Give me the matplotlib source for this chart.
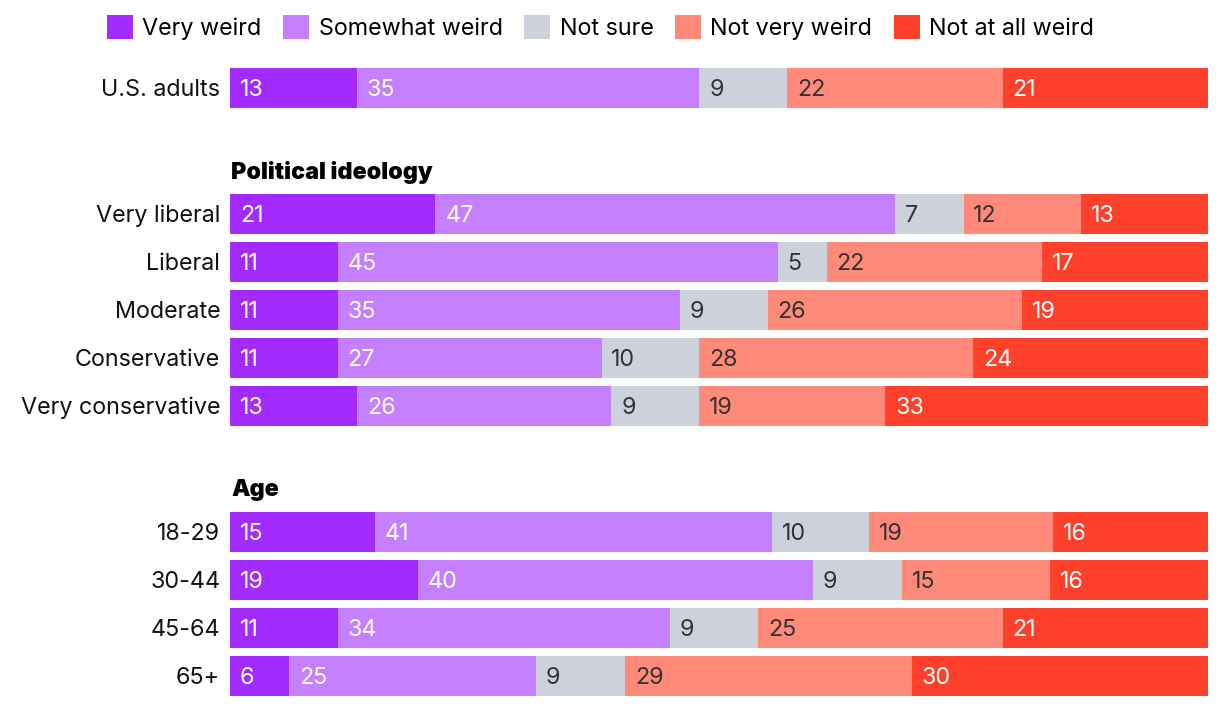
import matplotlib
matplotlib.use("Agg")
import matplotlib.pyplot as plt
from matplotlib.patches import Patch
import numpy as np

plt.rcParams['font.family'] = ['Inter', 'DejaVu Sans']

series = ["Very weird", "Somewhat weird", "Not sure", "Not very weird", "Not at all weird"]
colors = ["#A32BFF", "#C480FF", "#CDD1DB", "#FF8A7A", "#FF412C"]
label_colors = ["white", "white", "#333333", "#333333", "white"]

rows = ["U.S. adults",
        "Very liberal", "Liberal", "Moderate", "Conservative", "Very conservative",
        "18-29", "30-44", "45-64", "65+"]
very_weird     = [13, 21, 11, 11, 11, 13, 15, 19, 11, 6]
somewhat_weird = [35, 47, 45, 35, 27, 26, 41, 40, 34, 25]
not_sure       = [9, 7, 5, 9, 10, 9, 10, 9, 9, 9]
not_very_weird = [22, 12, 22, 26, 28, 19, 19, 15, 25, 29]
not_at_all     = [21, 13, 17, 19, 24, 33, 16, 16, 21, 30]

headers = ["Political ideology", "Age"]

# layout (pixel positions of row centers)
row_y = [88, 214, 262, 310, 358, 406, 532, 580, 628, 676]
header_y = [170, 488]

W, H = 1220, 708
fig = plt.figure(figsize=(W / 100, H / 100), dpi=100)
ax = fig.add_axes([230 / W, 0, 978 / W, 1])
ax.set_xlim(0, 100)
ax.set_ylim(H, 0)
ax.axis('off')

data = np.array([very_weird, somewhat_weird, not_sure, not_very_weird, not_at_all], dtype=float)
totals = data.sum(axis=0)
norm = data / totals * 100

fs = 16.8
left = np.zeros(len(rows))
for i in range(len(series)):
    ax.barh(row_y, norm[i], left=left, height=40, color=colors[i], linewidth=0)
    for j in range(len(rows)):
        ax.text(left[j] + 1.0, row_y[j] + 2, f"{int(data[i, j])}", ha='left', va='center',
                color=label_colors[i], fontsize=fs)
    left += norm[i]

for j, name in enumerate(rows):
    ax.text(-1.0, row_y[j] + 2, name, ha='right', va='center', color='#111111', fontsize=fs)

for h, y in zip(headers, header_y):
    ax.text(0.1, y + 2, h, ha='left', va='center', color='black', fontsize=fs, fontweight=900)

handles = [Patch(facecolor=c, edgecolor='none') for c in colors]
fig.legend(handles, series, loc='upper left', bbox_to_anchor=(107 / W, 1 - 15 / H),
           ncol=5, frameon=False, fontsize=fs, handlelength=1.12, handleheight=1.2,
           handletextpad=0.4, columnspacing=0.92, borderpad=0, borderaxespad=0)

fig.savefig("out.png", dpi=100)
